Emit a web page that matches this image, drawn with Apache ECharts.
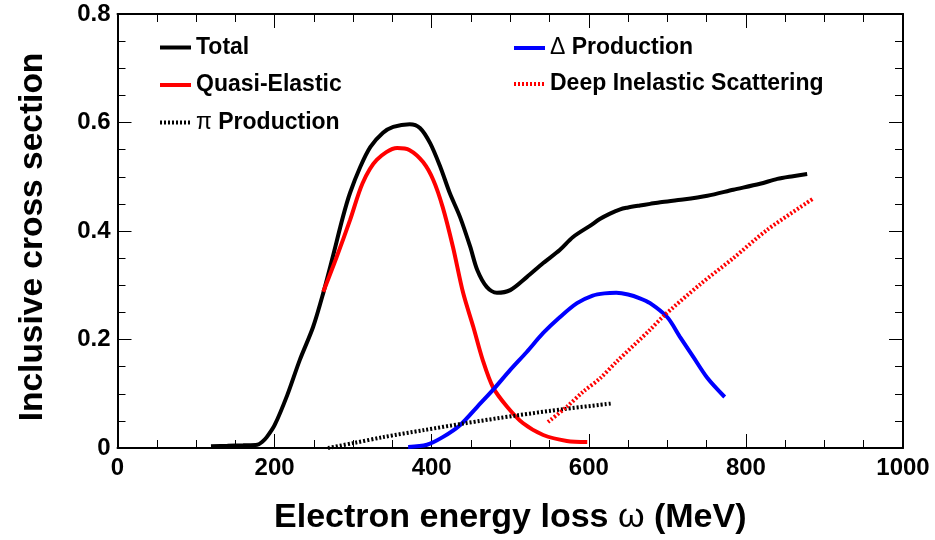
<!DOCTYPE html>
<html>
<head>
<meta charset="utf-8">
<script src="https://cdn.jsdelivr.net/npm/echarts@6/dist/echarts.min.js"></script>
<style>
html,body{margin:0;padding:0;background:#fff;}
#chart{width:935px;height:540px;}
</style>
</head>
<body>
<div id="chart"></div>
<script>
// Data (x: MeV, y: inclusive cross section)
const totalData = [[119,0.003],[140,0.004],[160,0.005],[178,0.006],[184,0.011],[190,0.02],[200,0.042],[216,0.097],[232,0.162],[249,0.223],[262,0.286],[274,0.352],[287,0.426],[296,0.47],[309,0.518],[322,0.555],[338,0.581],[351,0.592],[372,0.597],[385,0.59],[398,0.562],[411,0.518],[423,0.47],[436,0.426],[449,0.371],[458,0.328],[470,0.297],[483,0.286],[500,0.291],[521,0.315],[542,0.341],[563,0.365],[580,0.389],[602,0.41],[614,0.422],[627,0.432],[640,0.44],[649,0.443],[665,0.447],[678,0.45],[691,0.453],[720,0.458],[751,0.465],[784,0.476],[818,0.487],[840,0.496],[860,0.501],[878,0.505]];
const quasiElasticData = [[262,0.288],[279,0.352],[296,0.42],[312,0.488],[330,0.531],[356,0.553],[372,0.549],[389,0.527],[402,0.494],[414,0.444],[427,0.371],[440,0.286],[453,0.223],[465,0.162],[478,0.112],[496,0.076],[516,0.046],[542,0.024],[572,0.013],[598,0.011]];
const piProductionData = [[268,0.0],[300,0.009],[338,0.02],[390,0.033],[440,0.045],[508,0.06],[570,0.072],[629,0.082]];
const deltaProductionData = [[370,0.002],[394,0.006],[414,0.02],[436,0.042],[458,0.076],[478,0.107],[500,0.144],[521,0.177],[542,0.212],[563,0.241],[585,0.267],[605,0.281],[620,0.285],[635,0.286],[650,0.283],[665,0.276],[678,0.267],[700,0.241],[716,0.205],[733,0.168],[751,0.129],[773,0.094]];
const disData = [[548,0.048],[572,0.076],[593,0.104],[614,0.128],[636,0.16],[678,0.218],[695,0.243],[742,0.302],[784,0.35],[827,0.402],[885,0.459]];

const seriesNames = ['Total','Quasi-Elastic','\u03c0 Production','\u0394 Production','Deep Inelastic Scattering'];
const xTicks = {min:0, max:1000, interval:200};
const yTicks = {min:0, max:0.8, interval:0.2};

const FONT = '"Liberation Sans", Arial, Helvetica, sans-serif';
const chart = echarts.init(document.getElementById('chart'), null, {renderer:'canvas'});

function legendFmt(name){
  if (name.charAt(0) === '\u03c0' || name.charAt(0) === '\u0394') {
    return '{g|' + name.charAt(0) + '}' + name.slice(1);
  }
  return name;
}
const legendText = {
  fontFamily: FONT, fontWeight:'bold', fontSize:23, color:'#000',
  rich:{ g:{fontFamily: FONT, fontWeight:'normal', fontSize:23, color:'#000'} }
};

function xAx(pos, showLabel){
  return {
    type:'value', position:pos, min:xTicks.min, max:xTicks.max, interval:xTicks.interval,
    axisLine:{show:true, onZero:false, lineStyle:{color:'#000', width:2}},
    axisTick:{show:true, inside:true, length:14, lineStyle:{color:'#000', width:1}},
    minorTick:{show:true, splitNumber:4, length:8, lineStyle:{color:'#000', width:1}},
    splitLine:{show:false},
    axisLabel:{show:showLabel, margin:8, fontFamily:FONT, fontWeight:'bold', fontSize:24, color:'#000',
      formatter:function(v){ return String(v); }},
    name: showLabel ? 'Electron energy loss {g|\u03c9} (MeV)' : '',
    nameLocation:'middle', nameGap:53,
    nameTextStyle:{fontFamily:FONT, fontWeight:'bold', fontSize:34, color:'#000', verticalAlign:'top',
      rich:{g:{fontFamily:FONT, fontWeight:'normal', fontSize:34, color:'#000'}}}
  };
}
function yAx(pos, showLabel){
  return {
    type:'value', position:pos, min:yTicks.min, max:yTicks.max, interval:yTicks.interval,
    axisLine:{show:true, onZero:false, lineStyle:{color:'#000', width:2}},
    axisTick:{show:true, inside:true, length:14, lineStyle:{color:'#000', width:1}},
    minorTick:{show:true, splitNumber:4, length:8, lineStyle:{color:'#000', width:1}},
    splitLine:{show:false},
    axisLabel:{show:showLabel, margin:7, fontFamily:FONT, fontWeight:'bold', fontSize:24, color:'#000',
      formatter:function(v){ return String(Math.round(v*10)/10); }},
    name: showLabel ? 'Inclusive cross section' : '',
    nameLocation:'middle', nameGap:68, nameRotate:90,
    nameTextStyle:{fontFamily:FONT, fontWeight:'bold', fontSize:33.5, color:'#000', padding:[0,12,0,0]}
  };
}

function lineSeries(name, data, color, dashed){
  return {
    name:name, type:'line', data:data, xAxisIndex:0, yAxisIndex:0,
    symbol:'none', smooth:0.3, animation:false,
    lineStyle:{color:color, width:4, type: dashed ? [2,2] : 'solid'},
    itemStyle:{color:color}
  };
}

const legendCommon = {
  orient:'vertical', itemWidth:31, itemHeight:14, formatter:legendFmt, textStyle:legendText,
  selectedMode:false, itemStyle:{opacity:0}, lineStyle:{width:4}
};

chart.setOption({
  backgroundColor:'#fff',
  animation:false,
  grid:{left:117.5, right:32, top:14, bottom:92, containLabel:false},
  xAxis:[xAx('bottom', true), xAx('top', false)],
  yAxis:[yAx('left', true), yAx('right', false)],
  legend:[
    Object.assign({data:[seriesNames[0], seriesNames[1], seriesNames[2]], left:153, top:31, itemGap:14.5}, legendCommon),
    Object.assign({data:[seriesNames[3], seriesNames[4]], left:507, top:31.5, itemGap:13}, legendCommon)
  ],
  series:[
    lineSeries(seriesNames[0], totalData, '#000000', false),
    lineSeries(seriesNames[1], quasiElasticData, '#ff0000', false),
    lineSeries(seriesNames[3], deltaProductionData, '#0000ff', false),
    lineSeries(seriesNames[2], piProductionData, '#000000', true),
    lineSeries(seriesNames[4], disData, '#ff0000', true)
  ]
});
</script>
</body>
</html>
